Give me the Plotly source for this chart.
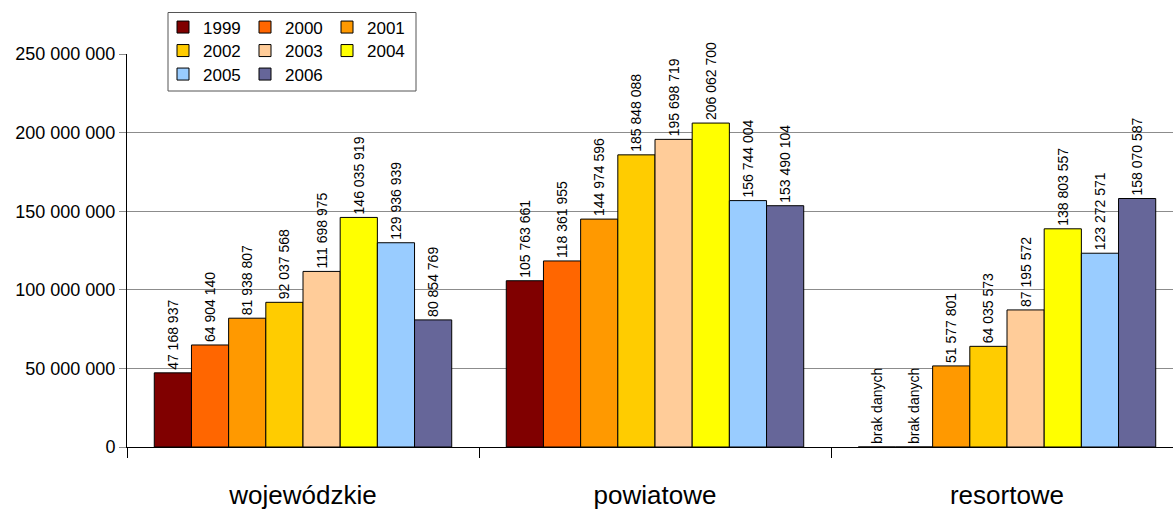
import plotly.graph_objects as go

categories = ["wojewódzkie", "powiatowe", "resortowe"]
years = ["1999", "2000", "2001", "2002", "2003", "2004", "2005", "2006"]
colors = ["#800000", "#FF6600", "#FF9900", "#FFCC00", "#FFCC99", "#FFFF00", "#99CCFF", "#666699"]

v_1999 = [47168937, 105763661, None]
v_2000 = [64904140, 118361955, None]
v_2001 = [81938807, 144974596, 51577801]
v_2002 = [92037568, 185848088, 64035573]
v_2003 = [111698975, 195698719, 87195572]
v_2004 = [146035919, 206062700, 138803557]
v_2005 = [129936939, 156744004, 123272571]
v_2006 = [80854769, 153490104, 158070587]
series = [v_1999, v_2000, v_2001, v_2002, v_2003, v_2004, v_2005, v_2006]
missing_label = "brak danych"

W, H = 1183, 509
ML, MR, MT, MB = 127, 0, 54, 62
pw, ph = W - ML - MR, H - MT - MB

def fmt(v):
    return f"{v:,.0f}".replace(",", " ")

fig = go.Figure()
for i, (yr, vals, col) in enumerate(zip(years, series, colors)):
    legend_name = ["legend", "legend2", "legend3"][i // 3]
    fig.add_trace(go.Bar(
        name=yr,
        x=categories,
        y=[0 if v is None else v for v in vals],
        text=[missing_label if v is None else fmt(v) for v in vals],
        textposition="outside",
        textangle=-90,
        constraintext="none",
        cliponaxis=False,
        textfont=dict(family="Liberation Sans, Arial", size=14, color="#000000"),
        marker=dict(color=col, line=dict(color="#000000", width=1)),
        legend=legend_name,
        hoverinfo="x+y+name",
    ))

def px_x(px):
    return (px - ML) / pw

def px_y(py):
    return (H - MB - py) / ph

leg_common = dict(
    orientation="h",
    xanchor="left",
    yanchor="middle",
    bgcolor="rgba(0,0,0,0)",
    borderwidth=0,
    font=dict(family="Liberation Sans, Arial", size=17, color="#000000"),
    entrywidth=37,
    entrywidthmode="pixels",
    itemclick=False,
    itemdoubleclick=False,
    traceorder="normal",
)

fig.update_layout(
    width=W, height=H,
    margin=dict(l=ML, r=MR, t=MT, b=MB, pad=0, autoexpand=False),
    paper_bgcolor="white",
    plot_bgcolor="white",
    separators=", ",
    barmode="group",
    bargap=0.155,
    bargroupgap=0,
    showlegend=True,
    font=dict(family="Liberation Sans, Arial", color="#000000"),
    legend=dict(leg_common, x=px_x(163), y=px_y(27.5)),
    legend2=dict(leg_common, x=px_x(163), y=px_y(51)),
    legend3=dict(leg_common, x=px_x(163), y=px_y(74.5)),
    xaxis=dict(
        type="category",
        showline=True, linecolor="#000000", linewidth=1,
        ticks="outside", tickson="boundaries", ticklen=10, tickcolor="#000000",
        tickfont=dict(family="Liberation Sans, Arial", size=26, color="#000000"),
        ticklabelstandoff=25,
        showgrid=False,
    ),
    yaxis=dict(
        range=[0, 250e6],
        dtick=50e6,
        tick0=0,
        tickformat=",.0f",
        showline=True, linecolor="#000000", linewidth=1,
        ticks="outside", ticklen=7, tickcolor="#8c8c8c",
        showgrid=True, gridcolor="#8c8c8c", gridwidth=1,
        zeroline=False,
        tickfont=dict(family="Liberation Sans, Arial", size=18, color="#000000"),
    ),
    shapes=[dict(
        type="rect", xref="paper", yref="paper", layer="above",
        x0=px_x(168), x1=px_x(416), y0=px_y(91), y1=px_y(12.5),
        fillcolor="white", line=dict(color="#555555", width=1),
    )],
)

fig.write_html(
    "out.html",
    config={"displayModeBar": False},
    post_script="document.body.style.margin='0';document.body.style.overflow='hidden';",
)
